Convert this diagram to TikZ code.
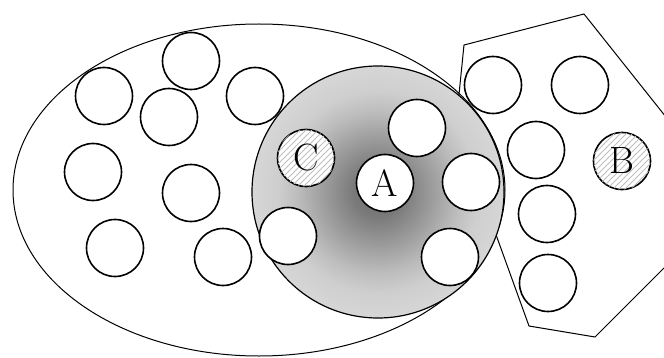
\documentclass[tikz,border=0pt]{standalone}
\usetikzlibrary{patterns}

\pgfdeclareradialshading{areashade}{\pgfpoint{0bp}{0bp}}{%
  color(0bp)=(black!58); color(5bp)=(black!52); color(11bp)=(black!38);
  color(16bp)=(black!26); color(20bp)=(black!19); color(25bp)=(black!16); color(50bp)=(black!16)}

\tikzset{
  ball/.style={circle, draw, thick, fill=white, minimum size=28.5pt, inner sep=0pt},
  marked/.style={ball, postaction={pattern=north east lines, pattern color=black!25}},
  letter/.style={font=\fontsize{19}{21}\selectfont}
}

\begin{document}
\begin{tikzpicture}[x=0.5pt, y=-0.5pt, line width=0.5pt]
	\useasboundingbox (0,0) rectangle (664,358);
	
	\draw (259,190) ellipse [x radius=246, y radius=166];
	\draw (456,124) -- (464,45) -- (584,14) -- (732,200) -- (595,337) -- (529,326) -- cycle;
	\draw[shading=areashade, line width=0.6pt] (378,192) circle [radius=126];
	
	% left region
	\node[ball] (l1) at (191,61) {};
	\node[ball] (l2) at (104,96) {};
	\node[ball] (l3) at (169,117) {};
	\node[ball] (l4) at (255,96) {};
	\node[ball] (l5) at (93,172) {};
	\node[ball] (l6) at (191,193) {};
	\node[ball] (l7) at (115,248) {};
	\node[ball] (l8) at (223,257) {};
	
	% shaded region
	\node[ball] (m1) at (288,236) {};
	\node[ball] (m2) at (417,128) {};
	\node[ball] (m3) at (471,182) {};
	\node[ball] (m4) at (450,257) {};
	\node[marked, letter] (C) at (306,158) {C};
	\node[ball, letter] (A) at (385,183) {A};
	
	% right region
	\node[ball] (r1) at (493,85) {};
	\node[ball] (r2) at (580,85) {};
	\node[ball] (r3) at (536,150) {};
	\node[ball] (r4) at (547,214) {};
	\node[ball] (r5) at (548,283) {};
	\node[marked, letter] (B) at (622,161) {B};
\end{tikzpicture}
\end{document}
